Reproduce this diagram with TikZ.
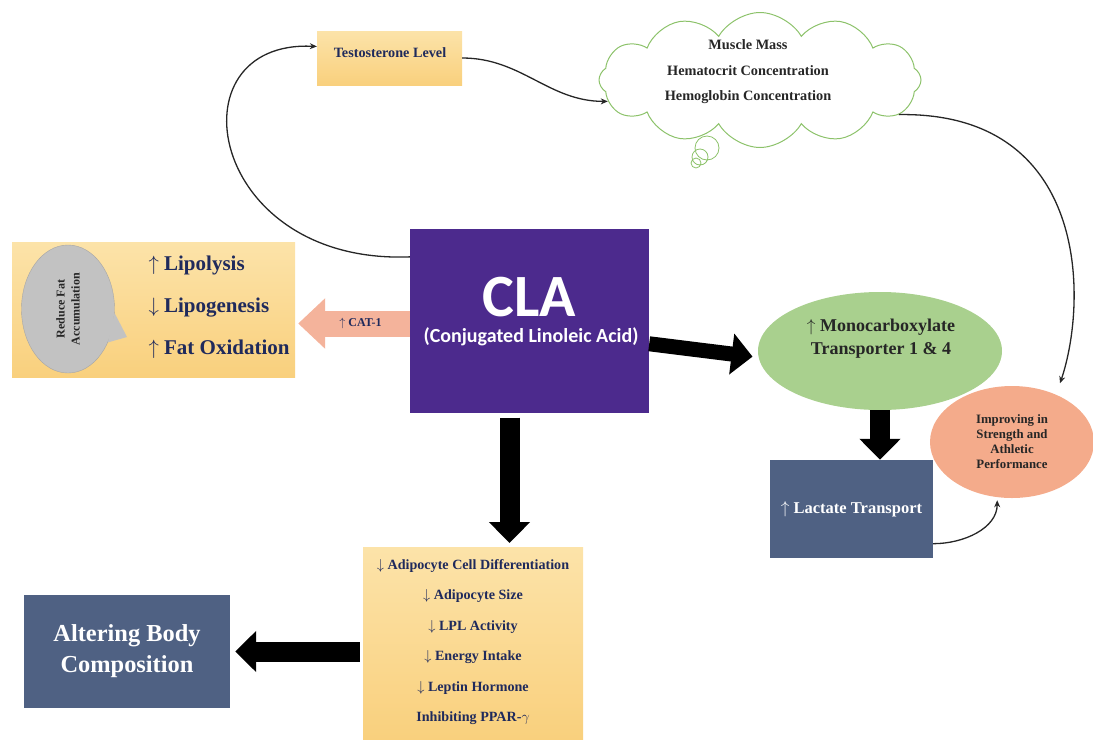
\documentclass[tikz,border=0pt]{standalone}
\usepackage{fontspec}
\setmainfont{Liberation Serif}
\newfontfamily\clafont{Carlito}
\usetikzlibrary{shapes.geometric,shapes.symbols,arrows.meta}
\definecolor{boxtop}{HTML}{FCE3A9}
\definecolor{boxbot}{HTML}{F9D07D}
\definecolor{navy}{HTML}{1F2A5C}
\definecolor{clapurple}{HTML}{4C2A8D}
\definecolor{slate}{HTML}{4F6183}
\definecolor{mctgreen}{HTML}{A9D08E}
\definecolor{perfsalmon}{HTML}{F4AB8B}
\definecolor{catpink}{HTML}{F4B39B}
\definecolor{cloudgreen}{HTML}{8CC26A}
\definecolor{bubblegray}{HTML}{C2C2C2}
\newcommand{\incArrow}{\ensuremath{\uparrow}\ }
\newcommand{\decArrow}{\ensuremath{\downarrow}\ }
\newcommand{\fsize}[2]{\fontsize{#1}{#2}\selectfont\bfseries}

\begin{document}
\begin{tikzpicture}[x=1pt, y=-1pt]
  \tikzset{
    yellowbox/.style={rectangle, top color=boxtop, bottom color=boxbot, text=navy, align=center, inner sep=0pt},
    slatebox/.style={rectangle, fill=slate, text=white, align=center, inner sep=0pt},
    thinline/.style={-{Stealth[length=7pt,width=6pt]}, line width=1.3pt, black!85},
    blockarrow/.style={line width=#1, black, -{Triangle[length=21pt,width=40pt]}}
  }
  \useasboundingbox (0,0) rectangle (1093,740);

  \node[yellowbox, minimum width=145pt, minimum height=54pt] (testo) at (389.5,58) {};
  \node[text=navy, font=\fsize{14.2}{17}] (testotext) at (390,53) {Testosterone Level};

  \node[cloud, draw=cloudgreen, line width=1pt, cloud puffs=12, cloud puff arc=120, aspect=2.4,
        minimum width=322pt, minimum height=135pt] (cloud) at (760,80) {};
  \node[align=center, text=black!85, font=\fsize{14.3}{25.5}] (cloudtext) at (748,72) {Muscle Mass\\Hematocrit Concentration\\Hemoglobin Concentration};
  \draw[cloudgreen, line width=0.8pt] (707,148) circle (12pt) (700,157) circle (8pt) (696,163) circle (5pt);

  \node[rectangle, fill=clapurple, minimum width=239pt, minimum height=184pt] (CLA) at (529.5,320.5) {};
  \node[text=white, inner sep=0pt, font=\clafont\fsize{60}{60}] (clatitle) at (529.5,297) {CLA};
  \node[text=white, inner sep=0pt, font=\clafont\fsize{20}{24}] (clasub) at (531,337) {(Conjugated Linoleic Acid)};

  \node[yellowbox, minimum width=283pt, minimum height=135pt] (fatbox) at (153.5,309.5) {};
  \node[ellipse, fill=bubblegray, draw=gray!70, minimum width=93pt, minimum height=128pt] (bubble) at (68,309) {};
  \fill[bubblegray] (bubble.-5) -- (127,337) -- (bubble.-40) -- cycle;
  \node[rotate=90, align=center, text=black!85, font=\fsize{12}{15}] (bubbletext) at (bubble.center) {Reduce Fat\\Accumulation};
  \node[anchor=west, align=left, text=navy, font=\fsize{21}{42}] (fatlist) at (145,307) {\incArrow Lipolysis\\\decArrow Lipogenesis\\\incArrow Fat Oxidation};

  \node[ellipse, fill=mctgreen, minimum width=244pt, minimum height=118pt] (mct) at (880,351) {};
  \node[align=center, text=black!85, font=\fsize{18}{23}] (mcttext) at (881,339) {\incArrow Monocarboxylate\\Transporter 1 \& 4};
  \node[slatebox, minimum width=163pt, minimum height=98pt, font=\fsize{16.5}{20}] (lact) at (851.5,509) {\incArrow Lactate Transport};
  \node[ellipse, fill=perfsalmon, minimum width=164pt, minimum height=112pt, align=center, text=black!85, font=\fsize{12.8}{15}] (imp) at (1012,442) {Improving in\\Strength and\\Athletic\\Performance};

  \node[yellowbox, minimum width=220pt, minimum height=192pt, anchor=north] (adip) at (473,547) {};
  \node[align=center, text=navy, font=\fsize{14.1}{30.5}] (adiplist) at (473,642) {\decArrow Adipocyte Cell Differentiation\\\decArrow Adipocyte Size\\\decArrow LPL Activity\\\decArrow Energy Intake\\\decArrow Leptin Hormone\\Inhibiting PPAR-$\gamma$};
  \node[slatebox, minimum width=206pt, minimum height=113pt, font=\fsize{24.4}{31}] (alter) at (127,651.5) {Altering Body\\Composition};

  \draw[line width=26pt, catpink, -{Triangle[length=27pt,width=49pt]}, shorten >=3pt] ([yshift=-3pt]CLA.west) -- ([yshift=-3pt]CLA.west -| fatbox.east) node[pos=0.43, text=navy, font=\fsize{12}{14}] {\incArrow CAT-1};
  \draw[blockarrow=15pt, shorten >=6pt] (CLA.-11) -- (mct.183);
  \draw[blockarrow=20pt] (mct.south) -- (mct.south |- lact.north);
  \draw[blockarrow=20pt, shorten <=5pt, shorten >=4pt] ([xshift=-20pt]CLA.south) -- ([xshift=-20pt]CLA.south |- adip.north);
  \draw[blockarrow=20pt, shorten <=3pt, shorten >=5pt] (adip.west |- alter.east) -- (alter.east);

  \draw[thinline] (CLA.152) .. controls +(-203,8) and +(-147,-7) .. (testo.171);
  \draw[thinline] (testo.east) to[out=0,in=180] (cloud.188);
  \draw[thinline, shorten >=12pt] (cloud.-14) .. controls +(190,-3) and +(32,-95) .. (imp.47);
  \draw[thinline, shorten >=3pt] (lact.-23) to[out=0,in=-90] (imp.255);
\end{tikzpicture}
\end{document}
